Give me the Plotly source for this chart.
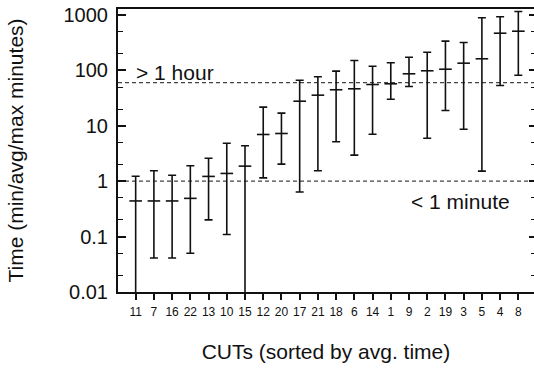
import plotly.graph_objects as go

cuts = ["11", "7", "16", "22", "13", "10", "15", "12", "20", "17", "21",
        "18", "6", "14", "1", "9", "2", "19", "3", "5", "4", "8"]
avg_time = [0.44, 0.44, 0.44, 0.49, 1.22, 1.38, 1.87, 6.97, 7.26, 27.8, 35.7,
            44.7, 46.5, 55.6, 57.3, 86.8, 98.4, 105, 135, 162, 469, 510]
max_time = [1.23, 1.54, 1.28, 1.90, 2.6, 4.85, 4.35, 21.7, 16.9, 66.5, 76.6,
            96.8, 151, 119, 137, 173, 213, 337, 319, 889, 927, 1157]
min_time = [0, 0.041, 0.041, 0.050, 0.20, 0.109, 0, 1.15, 2.03, 0.64, 1.54,
            5.14, 2.95, 7.05, 30.2, 51.2, 5.97, 18.9, 8.68, 1.52, 53.4, 81.9]
hour_line = 60
minute_line = 1

xs = list(range(len(cuts)))
plus = [m - a for m, a in zip(max_time, avg_time)]
minus = [a - m for a, m in zip(avg_time, min_time)]

FONT = "Liberation Sans, Arial, Helvetica, sans-serif"
INK = "#111111"

fig = go.Figure()
fig.add_trace(go.Scatter(
    x=xs, y=avg_time, mode="markers",
    marker=dict(symbol="line-ew", size=9, line=dict(width=1.6, color=INK), color=INK),
    error_y=dict(type="data", symmetric=False, array=plus, arrayminus=minus,
                 color=INK, thickness=1.6, width=4),
    showlegend=False, cliponaxis=True,
))
# invisible trace for the right-side tick axis
fig.add_trace(go.Scatter(x=[xs[0]], y=[avg_time[0]], yaxis="y2", mode="markers",
                         marker=dict(opacity=0), showlegend=False, hoverinfo="skip"))

for v in (hour_line, minute_line):
    fig.add_shape(type="line", xref="paper", x0=0, x1=1, yref="y", y0=v, y1=v,
                  line=dict(color="#444444", width=1.3, dash="4px,3px"), layer="below")

fig.add_annotation(text="> 1 hour", xref="paper", yref="paper", x=0.038, y=0.776,
                   xanchor="left", yanchor="middle", showarrow=False,
                   font=dict(size=21, color=INK, family=FONT))
fig.add_annotation(text="< 1 minute", xref="paper", yref="paper", x=0.700, y=0.321,
                   xanchor="left", yanchor="middle", showarrow=False,
                   font=dict(size=21, color=INK, family=FONT))

yr = [-2, 3.108]
minor_vals = []
for e in range(-2, 4):
    for m in (2, 5):
        minor_vals.append(m * 10 ** e)

fig.update_layout(
    width=534, height=370,
    margin=dict(l=118, r=0, t=9, b=78),
    paper_bgcolor="white", plot_bgcolor="white",
    font=dict(family=FONT, color=INK),
    xaxis=dict(
        range=[-0.97, 21.86], tickmode="array", tickvals=xs, ticktext=cuts,
        ticks="outside", ticklen=6, tickwidth=1.5, tickcolor=INK,
        tickfont=dict(size=12, family=FONT, color=INK), ticklabelstandoff=2,
        showline=True, linewidth=2, linecolor=INK, mirror=True,
        showgrid=False, zeroline=False,
        title=dict(text="CUTs (sorted by avg. time)", font=dict(size=21, family=FONT, color=INK),
                   standoff=26),
    ),
    yaxis=dict(
        type="log", range=yr, tickmode="array",
        tickvals=[0.01, 0.1, 1, 10, 100, 1000],
        ticktext=["0.01", "0.1", "1", "10", "100", "1000"],
        ticks="inside", ticklen=8, tickwidth=1.5, tickcolor=INK,
        tickfont=dict(size=20, family=FONT, color=INK), ticklabelstandoff=4,
        minor=dict(tickmode="array", tickvals=minor_vals, ticks="inside", ticklen=5,
                   tickwidth=1.2, tickcolor=INK),
        showline=True, linewidth=2, linecolor=INK,
        showgrid=False, zeroline=False,
        title=dict(text="Time (min/avg/max minutes)", font=dict(size=21, family=FONT, color=INK),
                   standoff=34),
    ),
    yaxis2=dict(
        type="log", range=yr, overlaying="y", side="right", anchor="x",
        tickmode="array", tickvals=[0.01, 0.1, 1, 10, 100, 1000],
        ticks="inside", ticklen=5, tickwidth=1.5, tickcolor=INK,
        minor=dict(tickmode="array", tickvals=minor_vals, ticks="inside", ticklen=3,
                   tickwidth=1.2, tickcolor=INK),
        showticklabels=False, showline=False, showgrid=False, zeroline=False,
    ),
)

fig.write_html("out.html")
